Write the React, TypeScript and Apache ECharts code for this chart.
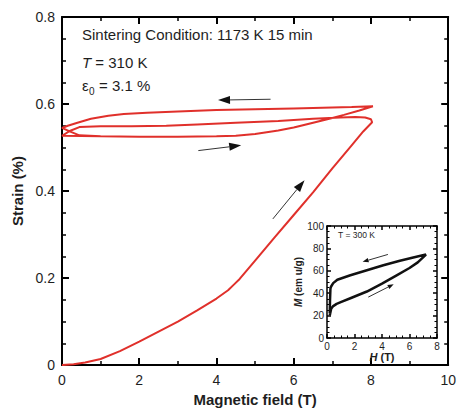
import React, { useEffect, useRef } from 'react';
import * as echarts from 'echarts';

// Main strain curve branches (field in T, strain in %)
const load1X = [0, 0.3, 0.6, 1.0, 1.5, 2.0, 2.5, 3.0, 3.5, 4.0, 4.3, 4.45, 4.6, 5.0, 5.5, 6.0, 6.5, 7.0, 7.5, 7.8, 8.03];
const load1Y = [0, 0.002, 0.006, 0.014, 0.032, 0.054, 0.077, 0.1, 0.126, 0.153, 0.172, 0.185, 0.198, 0.24, 0.293, 0.345, 0.397, 0.452, 0.505, 0.537, 0.558];
const unload1X = [8.03, 8.0, 7.85, 7.6, 7.2, 6.5, 5.6, 4.5, 3.5, 2.7, 1.8, 1.0, 0.45, 0.2, 0];
const unload1Y = [0.558, 0.565, 0.569, 0.57, 0.569, 0.566, 0.561, 0.557, 0.553, 0.55, 0.549, 0.549, 0.547, 0.538, 0.527];
const load2X = [0, 1.0, 2.0, 3.0, 4.0, 4.5, 5.0, 5.6, 6.0, 6.45, 7.0, 7.3, 7.7, 8.05];
const load2Y = [0.527, 0.526, 0.525, 0.525, 0.526, 0.527, 0.531, 0.539, 0.546, 0.556, 0.568, 0.575, 0.585, 0.595];
const unload2X = [8.05, 7.5, 7.0, 6.0, 5.0, 4.0, 3.0, 2.2, 1.6, 1.2, 0.75, 0.4, 0.15, 0];
const unload2Y = [0.595, 0.593, 0.592, 0.59, 0.588, 0.586, 0.583, 0.58, 0.577, 0.573, 0.566, 0.557, 0.55, 0.545];
const load3X = [0, 0.2, 0.45, 1.0];
const load3Y = [0.545, 0.537, 0.528, 0.526];

// Main arrows: [x1, y1, x2(head), y2(head)]
const mainArrows = [
  [5.4, 0.611, 4.04, 0.609],
  [3.53, 0.493, 4.64, 0.505],
  [5.46, 0.336, 6.28, 0.425],
];

// Inset M-H loop (H in T, M in emu/g)
const insetUpH = [0.2, 0.3, 0.45, 0.7, 1.0, 1.7, 2.9, 4.0, 5.0, 6.0, 6.6, 7.2];
const insetUpM = [20, 26, 28.5, 30.5, 32, 35.5, 41.5, 48.5, 55.5, 62.5, 67.5, 74.5];
const insetDownH = [7.2, 6.5, 5.3, 4.1, 2.9, 1.7, 0.75, 0.45, 0.3, 0.25, 0.22, 0.2];
const insetDownM = [74.5, 72.5, 69, 65, 60.5, 56, 52, 49, 46, 44, 34, 22];
const insetArrows = [
  [4.43, 74.6, 2.59, 68],
  [3.0, 36.5, 4.85, 48],
];

const mainXTicks = { min: 0, max: 10, interval: 2 };
const mainYTicks = { min: 0, max: 0.8, interval: 0.2 };
const insetXTicks = { min: 0, max: 8, interval: 2 };
const insetYTicks = { min: 0, max: 100, interval: 20 };

const FONT = 'Liberation Sans, Arial, Helvetica, sans-serif';
const RED = '#e0302b';
const TXT = '#1e1e1e';

const pairs = (xs: number[], ys: number[]) => xs.map((x, i) => [x, ys[i]]);

const arrowRender = (headLen: number, headW: number, lw: number) => (params: any, api: any) => {
  const p1 = api.coord([api.value(0), api.value(1)]);
  const p2 = api.coord([api.value(2), api.value(3)]);
  const dx = p2[0] - p1[0];
  const dy = p2[1] - p1[1];
  const len = Math.hypot(dx, dy) || 1;
  const ux = dx / len;
  const uy = dy / len;
  const bx = p2[0] - ux * headLen;
  const by = p2[1] - uy * headLen;
  const nx = -uy;
  const ny = ux;
  return {
    type: 'group',
    children: [
      { type: 'line', shape: { x1: p1[0], y1: p1[1], x2: bx, y2: by }, style: { stroke: '#333', lineWidth: lw } },
      {
        type: 'polygon',
        shape: { points: [[p2[0], p2[1]], [bx + nx * headW, by + ny * headW], [bx - nx * headW, by - ny * headW]] },
        style: { fill: '#111' },
      },
    ],
  };
};

function boxAxis(grid: number, pos: string, range: any, opts: any) {
  const isX = pos === 'bottom' || pos === 'top';
  const showLabel = pos === 'bottom' || pos === 'left';
  return {
    type: 'value',
    gridIndex: grid,
    position: pos,
    min: range.min,
    max: range.max,
    interval: range.interval,
    axisLine: { show: true, onZero: false, lineStyle: { color: '#000', width: opts.lineW } },
    axisTick: { show: true, inside: true, length: opts.tickLen, lineStyle: { color: '#000', width: opts.tickW } },
    minorTick: { show: true, splitNumber: isX ? opts.minorX : opts.minorY, length: opts.minorLen, lineStyle: { color: '#000', width: opts.minorW } },
    splitLine: { show: false },
    minorSplitLine: { show: false },
    axisLabel: showLabel
      ? { show: true, fontSize: opts.labelSize, color: TXT, fontFamily: FONT, margin: opts.labelMargin, formatter: opts.formatter }
      : { show: false },
  };
}

const mainOpts = { lineW: 2, tickLen: 7, tickW: 2, minorLen: 4, minorW: 1.5, minorX: 2, minorY: 4, labelSize: 14, labelMargin: 8 };
const insetOpts = { lineW: 1.5, tickLen: 4, tickW: 1.5, minorLen: 2.5, minorW: 1, minorX: 4, minorY: 4, labelSize: 10, labelMargin: 3 };

export default function App() {
  const ref = useRef<HTMLDivElement>(null);
  useEffect(() => {
    const chart = echarts.init(ref.current as HTMLDivElement, null, { renderer: 'svg' });
    const mainData = [
      ...pairs(load1X, load1Y),
      ...pairs(unload1X, unload1Y),
      ...pairs(load2X, load2Y),
      ...pairs(unload2X, unload2Y),
      ...pairs(load3X, load3Y),
    ];
    const insetData = [...pairs(insetUpH, insetUpM), ...pairs(insetDownH, insetDownM)];
    const option: any = {
      animation: false,
      backgroundColor: '#fff',
      textStyle: { fontFamily: FONT },
      grid: [
        { left: 62, right: 5, top: 17, bottom: 39 },
        { left: 327, top: 226, width: 110, height: 112, show: true, backgroundColor: '#fff', borderWidth: 0, z: 5 },
      ],
      xAxis: [
        {
          ...boxAxis(0, 'bottom', mainXTicks, { ...mainOpts, formatter: (v: number) => String(v) }),
          name: 'Magnetic field (T)',
          nameLocation: 'middle',
          nameGap: 23,
          nameTextStyle: { fontSize: 15, fontWeight: 'bold', color: TXT, fontFamily: FONT },
        },
        boxAxis(0, 'top', mainXTicks, mainOpts),
        {
          ...boxAxis(1, 'bottom', insetXTicks, { ...insetOpts, formatter: (v: number) => String(v) }),
          name: '{i|H} (T)',
          nameLocation: 'middle',
          nameGap: 13,
          nameTextStyle: {
            fontSize: 11, fontWeight: 'bold', color: TXT, fontFamily: FONT,
            rich: { i: { fontStyle: 'italic', fontWeight: 'bold', fontSize: 11, color: TXT, fontFamily: FONT } },
          },
          z: 6,
        },
        { ...boxAxis(1, 'top', insetXTicks, insetOpts), z: 6 },
      ],
      yAxis: [
        {
          ...boxAxis(0, 'left', mainYTicks, { ...mainOpts, labelMargin: 7, formatter: (v: number) => (v === 0 ? '0' : v.toFixed(1)) }),
          name: 'Strain (%)',
          nameLocation: 'middle',
          nameGap: 34,
          nameTextStyle: { fontSize: 15, fontWeight: 'bold', color: TXT, fontFamily: FONT },
        },
        boxAxis(0, 'right', mainYTicks, mainOpts),
        {
          ...boxAxis(1, 'left', insetYTicks, { ...insetOpts, formatter: (v: number) => String(v) }),
          name: '{i|M} (em u/g)',
          nameLocation: 'middle',
          nameGap: 13,
          nameTextStyle: {
            fontSize: 10, fontWeight: 'bold', color: TXT, fontFamily: FONT,
            rich: { i: { fontStyle: 'italic', fontWeight: 'bold', fontSize: 10, color: TXT, fontFamily: FONT } },
          },
          z: 6,
        },
        { ...boxAxis(1, 'right', insetYTicks, insetOpts), z: 6 },
      ],
      series: [
        {
          type: 'line',
          xAxisIndex: 0,
          yAxisIndex: 0,
          data: mainData,
          showSymbol: false,
          lineStyle: { color: RED, width: 2 },
          z: 2,
        },
        {
          type: 'custom',
          xAxisIndex: 0,
          yAxisIndex: 0,
          data: mainArrows,
          encode: { x: [0, 2], y: [1, 3] },
          renderItem: arrowRender(12, 4, 1),
          z: 3,
        },
        {
          type: 'line',
          xAxisIndex: 2,
          yAxisIndex: 2,
          data: insetData,
          showSymbol: false,
          lineStyle: { color: '#111', width: 2.5 },
          z: 7,
        },
        {
          type: 'custom',
          xAxisIndex: 2,
          yAxisIndex: 2,
          data: insetArrows,
          encode: { x: [0, 2], y: [1, 3] },
          renderItem: arrowRender(6, 2.2, 1),
          z: 7,
        },
      ],
      graphic: [
        { type: 'text', x: 82, y: 34, style: { text: 'Sintering Condition: 1173 K 15 min', fontSize: 15, fill: TXT, fontFamily: FONT, verticalAlign: 'middle' } },
        {
          type: 'text', x: 82, y: 62,
          style: {
            text: '{i|T} = 310 K', fontSize: 15, fill: TXT, fontFamily: FONT, verticalAlign: 'middle',
            rich: { i: { fontStyle: 'italic', fontSize: 15, fill: TXT, fontFamily: FONT } },
          },
        },
        { type: 'text', x: 82, y: 85, style: { text: 'ε', fontSize: 15, fill: TXT, fontFamily: FONT, verticalAlign: 'middle' } },
        { type: 'text', x: 89, y: 91, style: { text: '0', fontSize: 10, fill: TXT, fontFamily: FONT, verticalAlign: 'middle' } },
        { type: 'text', x: 99, y: 85, style: { text: '= 3.1 %', fontSize: 15, fill: TXT, fontFamily: FONT, verticalAlign: 'middle' } },
        { type: 'text', x: 338, y: 235, z: 10, style: { text: 'T = 300 K', fontSize: 8.5, fill: TXT, fontFamily: FONT, verticalAlign: 'middle' } },
      ],
    };
    chart.setOption(option);
    return () => chart.dispose();
  }, []);
  return <div ref={ref} style={{ position: 'fixed', left: 0, top: 0, width: 459, height: 412, background: '#fff' }} />;
}
